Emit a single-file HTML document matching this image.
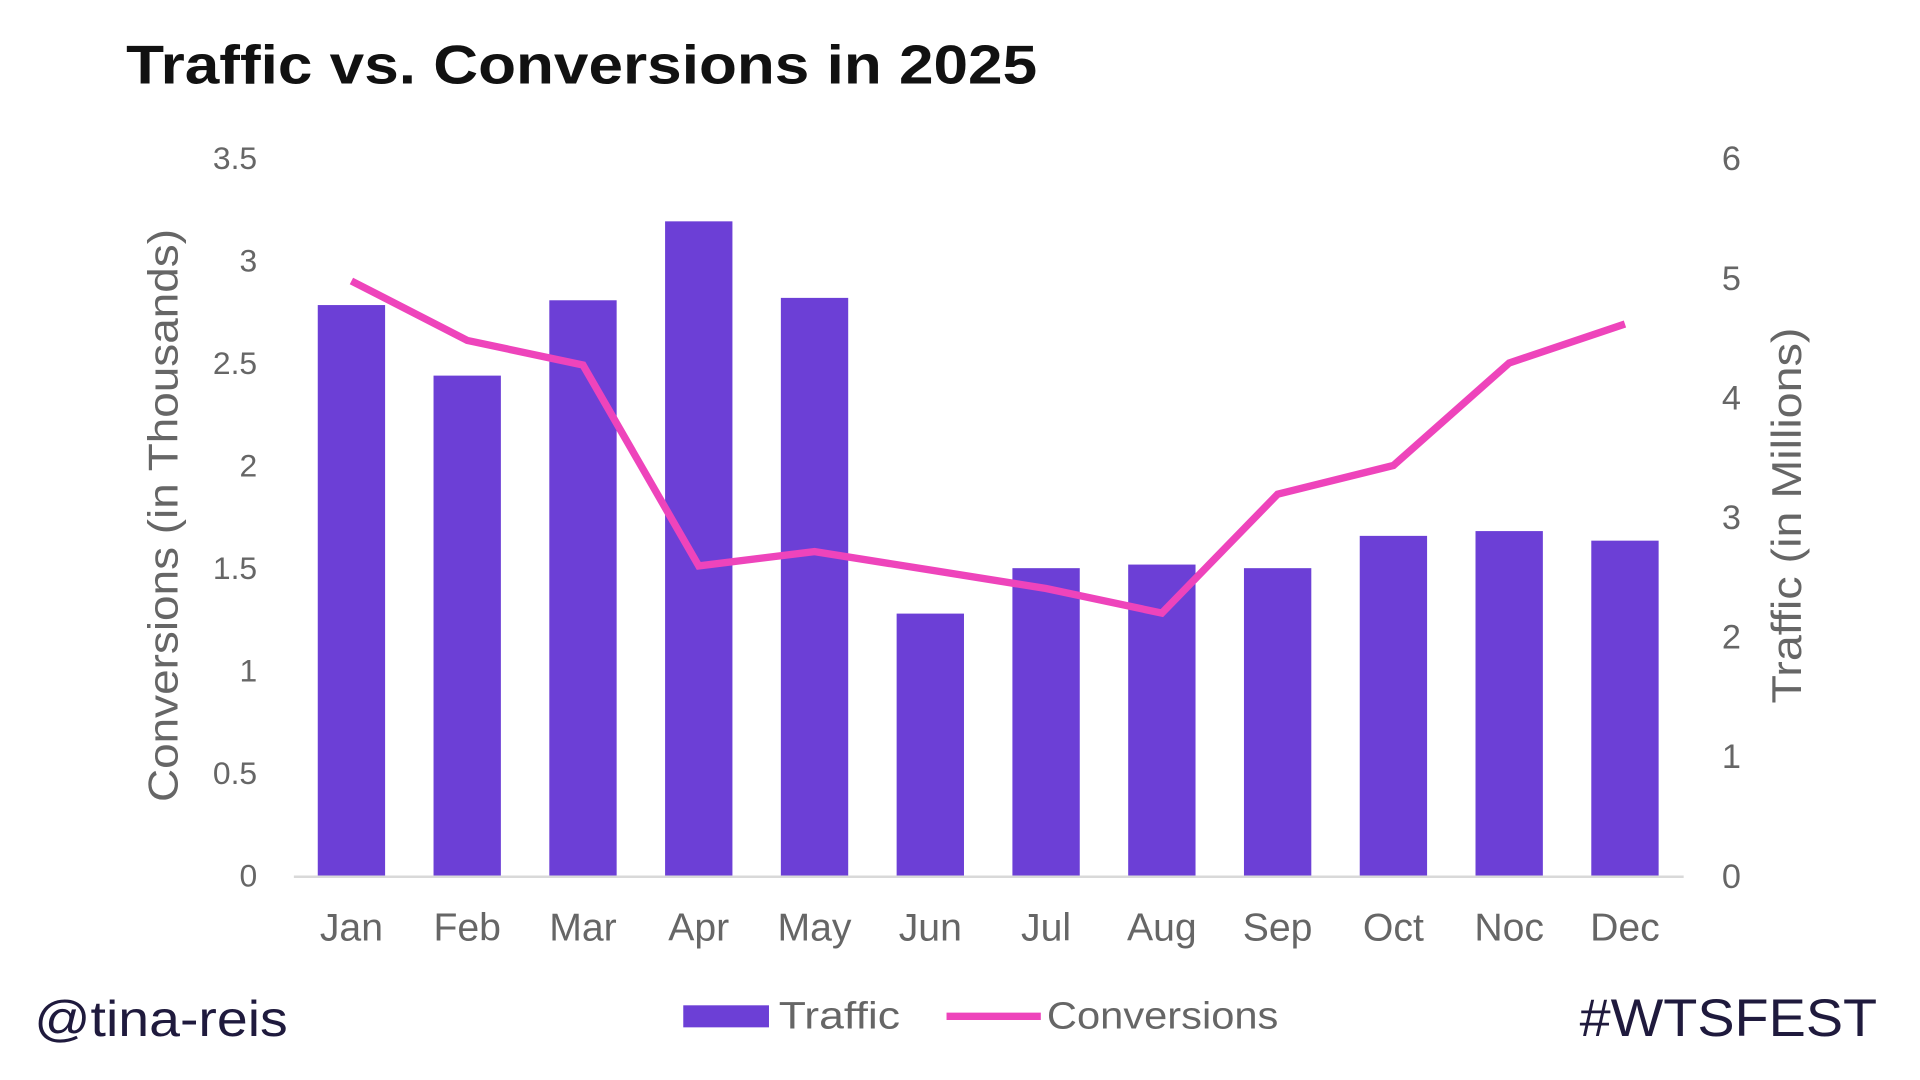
<!DOCTYPE html>
<html><head><meta charset="utf-8"><style>
html,body{margin:0;padding:0;background:#fff;width:1920px;height:1080px;overflow:hidden}
svg{display:block}
text{font-family:"Liberation Sans",sans-serif}
</style></head><body>
<svg id="chart" width="1920" height="1080" viewBox="0 0 1568 882" xmlns="http://www.w3.org/2000/svg">
<rect width="1568" height="882" fill="#fff"/>
<text x="103" y="68" font-size="45" font-weight="bold" fill="#111" textLength="744" lengthAdjust="spacingAndGlyphs">Traffic vs. Conversions in 2025</text>
<g id="bars"></g>
<g id="line"></g>
<g id="axes"></g>
<text transform="translate(145,421) rotate(-90)" text-anchor="middle" font-size="34" fill="#666" textLength="468" lengthAdjust="spacingAndGlyphs">Conversions (in Thousands)</text>
<text transform="translate(1471,421) rotate(-90)" text-anchor="middle" font-size="34" fill="#666" textLength="307" lengthAdjust="spacingAndGlyphs">Traffic (in Millions)</text>
<g>
<rect x="558" y="821" width="70" height="18" fill="#6c3fd6"/>
<text x="636" y="840" font-size="31" fill="#666" textLength="99" lengthAdjust="spacingAndGlyphs">Traffic</text>
<line x1="773" y1="830" x2="850" y2="830" stroke="#ee44bb" stroke-width="6"/>
<text x="855" y="840" font-size="31" fill="#666" textLength="189" lengthAdjust="spacingAndGlyphs">Conversions</text>
</g>
<text x="28" y="846" font-size="41" fill="#1f1a3d" textLength="207" lengthAdjust="spacingAndGlyphs">@tina-reis</text>
<text x="1290" y="846" font-size="43" fill="#1f1a3d" textLength="243" lengthAdjust="spacingAndGlyphs">#WTSFEST</text>
</svg>
<script>
const months = ["Jan","Feb","Mar","Apr","May","Jun","Jul","Aug","Sep","Oct","Noc","Dec"];
const traffic = [4.77,4.18,4.81,5.47,4.83,2.19,2.57,2.60,2.57,2.84,2.88,2.80];
const conversions = [2.90,2.61,2.49,1.51,1.58,1.49,1.40,1.28,1.86,2.00,2.50,2.69];
const leftTicks = ["0","0.5","1","1.5","2","2.5","3","3.5"];
const rightTicks = ["0","1","2","3","4","5","6"];

const NS="http://www.w3.org/2000/svg";
const y0=715, yTop=129;
const yL=v=>y0-(v/3.5)*(y0-yTop);
const yR=v=>y0-(v/6)*(y0-yTop);
const xC=i=>287+i*94.55;
function mk(tag,attrs,parent){const e=document.createElementNS(NS,tag);for(const k in attrs)e.setAttribute(k,attrs[k]);parent.appendChild(e);return e;}
const gB=document.getElementById('bars'),gL=document.getElementById('line'),gA=document.getElementById('axes');
traffic.forEach((v,i)=>{
  const r=mk('rect',{x:xC(i)-27.5,y:yR(v),width:55,height:y0-yR(v),fill:'#6c3fd6'},gB);
  
  
});
const p=mk('polyline',{points:conversions.map((v,i)=>xC(i)+','+yL(v)).join(' '),fill:'none',stroke:'#ee44bb','stroke-width':6,'stroke-linejoin':'miter'},gL);


const ax=mk('line',{x1:240,y1:y0+1,x2:1375,y2:y0+1,stroke:'#d9d9d9','stroke-width':2},gA);


leftTicks.forEach(t=>{
  const e=mk('text',{x:210,y:yL(parseFloat(t))+9,'text-anchor':'end','font-size':26,fill:'#666'},gA);
  e.textContent=t;
  
  
});
rightTicks.forEach(t=>{
  const e=mk('text',{x:1414,y:yR(parseFloat(t))+10,'text-anchor':'middle','font-size':28,fill:'#666'},gA);
  e.textContent=t;
  
  
});
months.forEach((m,i)=>{
  const e=mk('text',{x:xC(i),y:768,'text-anchor':'middle','font-size':32,fill:'#666'},gA);
  e.textContent=m;
  
  
});
</script>
</body></html>
